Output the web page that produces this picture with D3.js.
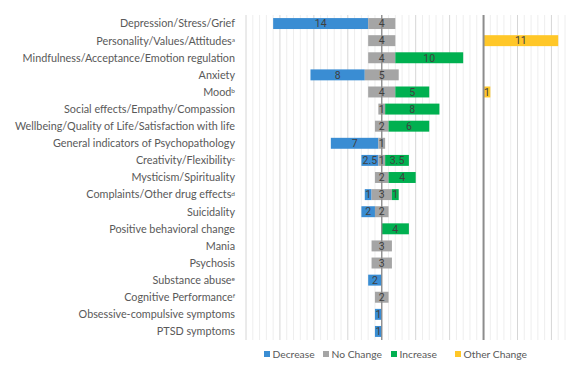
<!DOCTYPE html>
<html lang="en">
<head>
    <meta charset="UTF-8">
    <title>Direction of change by outcome domain</title>
    <script src="https://cdnjs.cloudflare.com/ajax/libs/d3/7.8.5/d3.min.js"></script>
    <style>
        body { margin: 0; background: #fff; }
        .cat { font-family: Lato, "Open Sans", sans-serif; font-size: 10.8px; fill: #595959; }
        .val { font-family: Roboto, sans-serif; font-size: 10.5px; fill: #404040; }
        .leg { font-family: Lato, "Open Sans", sans-serif; font-size: 10.3px; fill: #595959; }
    </style>
</head>
<body>
<div id="chart"></div>
<script>
    // Data
    const categories = [
        "Depression/Stress/Grief", "Personality/Values/Attitudes", "Mindfulness/Acceptance/Emotion regulation",
        "Anxiety", "Mood", "Social effects/Empathy/Compassion", "Wellbeing/Quality of Life/Satisfaction with life",
        "General indicators of Psychopathology", "Creativity/Flexibility", "Mysticism/Spirituality",
        "Complaints/Other drug effects", "Suicidality", "Positive behavioral change", "Mania", "Psychosis",
        "Substance abuse", "Cognitive Performance", "Obsessive-compulsive symptoms", "PTSD symptoms"
    ];
    const footnotes = ["", "a", "", "", "b", "", "", "", "c", "", "d", "", "", "", "", "e", "f", "", ""];
    const decrease    = [14, 0, 0, 8, 0, 0, 0, 7, 2.5, 0, 1, 2, 0, 0, 0, 2, 0, 1, 1];
    const noChange    = [4, 4, 4, 5, 4, 1, 2, 1, 1, 2, 3, 2, 0, 3, 3, 0, 2, 0, 0];
    const increase    = [0, 0, 10, 0, 5, 8, 6, 0, 3.5, 4, 1, 0, 4, 0, 0, 0, 0, 0, 0];
    const otherChange = [0, 11, 0, 0, 1, 0, 0, 0, 0, 0, 0, 0, 0, 0, 0, 0, 0, 0, 0];
    const seriesNames = ["Decrease", "No Change", "Increase", "Other Change"];
    const colors = ["#3a8dd3", "#a5a5a5", "#00b050", "#ffc728"];

    const width = 580, height = 367;
    const plotLeft = 246, plotRight = 565, plotTop = 15, plotBottom = 340;
    const otherBase = 15; // "Other Change" panel starts here on the shared scale

    const svg = d3.select("#chart").append("svg")
        .attr("width", width).attr("height", height);

    const x = d3.scaleLinear().domain([-20, 27]).range([plotLeft, plotRight]);
    const y = d3.scaleBand().domain(categories).range([plotTop, plotBottom]).paddingInner(0.36).paddingOuter(0.18);

    // grid
    const grid = svg.append("g");
    grid.selectAll("line").data(d3.range(-20, 28)).enter().append("line")
        .attr("x1", d => x(d)).attr("x2", d => x(d))
        .attr("y1", plotTop).attr("y2", plotBottom)
        .attr("stroke", d => d % 5 === 0 ? "#d6d6d6" : "#eeeeee")
        .attr("stroke-width", 1);

    // build segments
    const segs = [];
    categories.forEach((c, i) => {
        const h = noChange[i] / 2;
        segs.push({ c, s: 0, x0: -h - decrease[i], x1: -h, v: decrease[i] });
        segs.push({ c, s: 1, x0: -h, x1: h, v: noChange[i] });
        segs.push({ c, s: 2, x0: h, x1: h + increase[i], v: increase[i] });
        segs.push({ c, s: 3, x0: otherBase, x1: otherBase + otherChange[i], v: otherChange[i] });
    });
    const shown = segs.filter(d => d.v > 0);

    svg.append("g").selectAll("rect").data(shown).enter().append("rect")
        .attr("x", d => x(d.x0))
        .attr("y", d => y(d.c))
        .attr("width", d => x(d.x1) - x(d.x0))
        .attr("height", y.bandwidth())
        .attr("fill", d => colors[d.s]);

    // axes lines
    svg.append("line").attr("x1", x(0)).attr("x2", x(0)).attr("y1", plotTop).attr("y2", plotBottom)
        .attr("stroke", "#8c8c8c").attr("stroke-width", 1.3);
    svg.append("line").attr("x1", x(otherBase)).attr("x2", x(otherBase)).attr("y1", plotTop).attr("y2", plotBottom)
        .attr("stroke", "#8c8c8c").attr("stroke-width", 2);

    // value labels
    svg.append("g").selectAll("text").data(shown).enter().append("text")
        .attr("class", "val")
        .attr("x", d => (x(d.x0) + x(d.x1)) / 2)
        .attr("y", d => y(d.c) + y.bandwidth() / 2)
        .attr("dy", "0.36em")
        .attr("text-anchor", "middle")
        .text(d => d.v);

    // category labels
    const labels = svg.append("g").selectAll("text").data(categories).enter().append("text")
        .attr("class", "cat")
        .attr("x", 235)
        .attr("y", d => y(d) + y.bandwidth() / 2)
        .attr("dy", "0.36em")
        .attr("text-anchor", "end");
    labels.append("tspan").text(d => d);
    labels.append("tspan")
        .attr("dy", "-0.45em")
        .attr("font-size", "6.5px")
        .text((d, i) => footnotes[i]);

    // legend
    const legX = [264, 323, 391, 455];
    const leg = svg.append("g").selectAll("g").data(seriesNames).enter().append("g")
        .attr("transform", (d, i) => `translate(${legX[i]},354)`);
    leg.append("rect").attr("x", 0).attr("y", -3).attr("width", 6).attr("height", 6)
        .attr("fill", (d, i) => colors[i]);
    leg.append("text").attr("class", "leg").attr("x", 8.5).attr("dy", "0.36em").text(d => d);
</script>
</body>
</html>
